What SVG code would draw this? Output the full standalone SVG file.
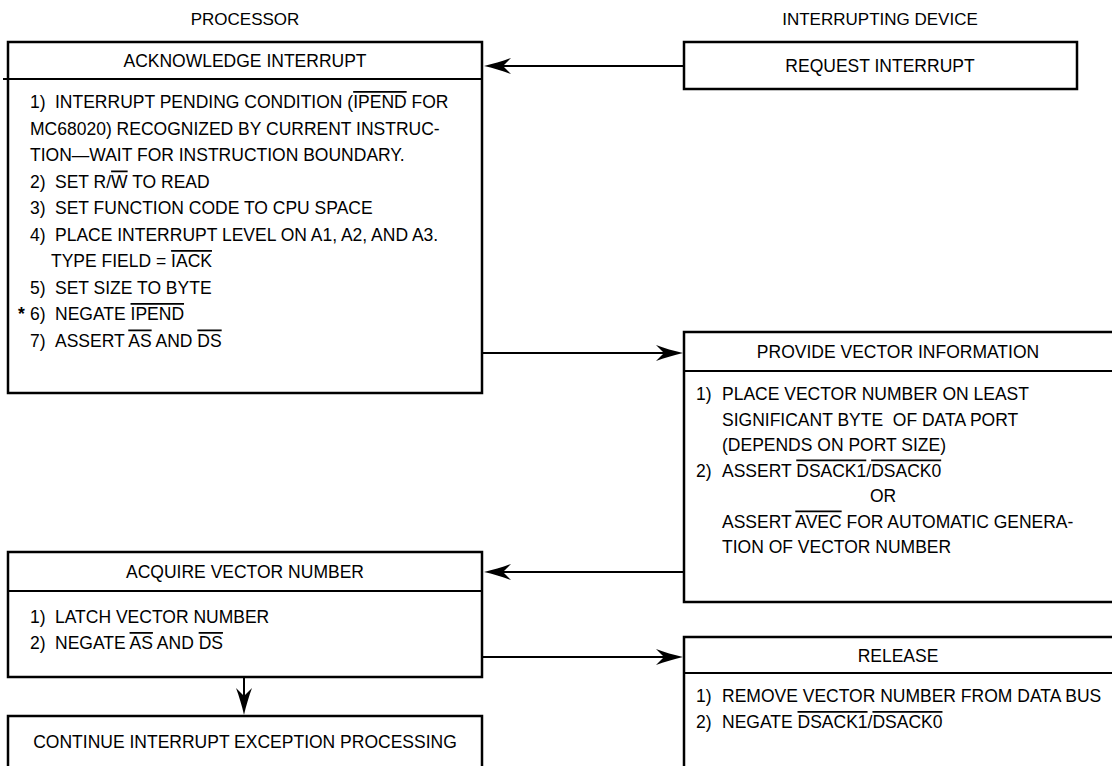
<svg xmlns="http://www.w3.org/2000/svg" width="1112" height="766" viewBox="0 0 1112 766">
<style>
text { font-family: "Liberation Sans", Arial, Helvetica, sans-serif; font-size: 17.5px; fill: #000; white-space: pre; }
.hdr { font-size: 17px; text-anchor: middle; }
.ttl { text-anchor: middle; }
.ol { text-decoration: overline; }
.box { fill: #fff; stroke: #000; stroke-width: 2.5; }
.div { stroke: #000; stroke-width: 2; fill: none; }
.conn line { stroke: #000; stroke-width: 2; fill: none; marker-end: url(#arr); }
</style>
<defs>
<marker id="arr" markerUnits="userSpaceOnUse" viewBox="-30 -10 32 20" markerWidth="32" markerHeight="20" refX="-10" refY="0" orient="auto">
<path d="M0,0 C-9,-2 -19,-5 -27,-8 L-19,0 L-27,8 C-19,5 -9,2 0,0 Z" fill="#000"/>
</marker>
</defs>
<rect width="1112" height="766" fill="#fff"/>

<g id="labels">
<text class="hdr" x="245" y="25">PROCESSOR</text>
<text class="hdr" x="880" y="25">INTERRUPTING DEVICE</text>
</g>

<g id="acknowledge">
<rect class="box" x="8" y="42" width="474" height="351"/>
<line class="div" x1="3" y1="79" x2="482" y2="79"/>
<text class="ttl" x="245" y="67">ACKNOWLEDGE INTERRUPT</text>
<text x="30" y="108">1)</text><text x="55" y="108">INTERRUPT PENDING CONDITION (<tspan class="ol">IPEND</tspan> FOR</text>
<text x="30" y="134.5">MC68020) RECOGNIZED BY CURRENT INSTRUC-</text>
<text x="30" y="161">TION—WAIT FOR INSTRUCTION BOUNDARY.</text>
<text x="30" y="187.5">2)</text><text x="55" y="187.5">SET R/<tspan class="ol">W</tspan> TO READ</text>
<text x="30" y="214">3)</text><text x="55" y="214">SET FUNCTION CODE TO CPU SPACE</text>
<text x="30" y="240.5">4)</text><text x="55" y="240.5">PLACE INTERRUPT LEVEL ON A1, A2, AND A3.</text>
<text x="51" y="267">TYPE FIELD = <tspan class="ol">IACK</tspan></text>
<text x="30" y="293.5">5)</text><text x="55" y="293.5">SET SIZE TO BYTE</text>
<text x="18" y="320" font-weight="bold">*</text><text x="30" y="320">6)</text><text x="55" y="320">NEGATE <tspan class="ol">IPEND</tspan></text>
<text x="30" y="346.5">7)</text><text x="55" y="346.5">ASSERT <tspan class="ol">AS</tspan> AND <tspan class="ol">DS</tspan></text>
</g>

<g id="request">
<rect class="box" x="684" y="42" width="393" height="47"/>
<text class="ttl" x="880" y="72">REQUEST INTERRUPT</text>
</g>

<g id="provide">
<rect class="box" x="684" y="332" width="440" height="270"/>
<line class="div" x1="684" y1="371" x2="1112" y2="371"/>
<text class="ttl" x="898" y="358">PROVIDE VECTOR INFORMATION</text>
<text x="696" y="400">1)</text><text x="722" y="400">PLACE VECTOR NUMBER ON LEAST</text>
<text x="722" y="425.5">SIGNIFICANT BYTE  OF DATA PORT</text>
<text x="722" y="451">(DEPENDS ON PORT SIZE)</text>
<text x="696" y="476.5">2)</text><text x="722" y="476.5">ASSERT <tspan class="ol">DSACK1</tspan>/<tspan class="ol">DSACK0</tspan></text>
<text x="870" y="502">OR</text>
<text x="722" y="527.5">ASSERT <tspan class="ol">AVEC</tspan> FOR AUTOMATIC GENERA-</text>
<text x="722" y="553">TION OF VECTOR NUMBER</text>
</g>

<g id="acquire">
<rect class="box" x="8" y="552" width="474" height="125"/>
<line class="div" x1="8" y1="591" x2="482" y2="591"/>
<text class="ttl" x="245" y="578">ACQUIRE VECTOR NUMBER</text>
<text x="30" y="623">1)</text><text x="55" y="623">LATCH VECTOR NUMBER</text>
<text x="30" y="649">2)</text><text x="55" y="649">NEGATE <tspan class="ol">AS</tspan> AND <tspan class="ol">DS</tspan></text>
</g>

<g id="release">
<rect class="box" x="684" y="637" width="440" height="150"/>
<line class="div" x1="684" y1="673" x2="1112" y2="673"/>
<text class="ttl" x="898" y="661.5">RELEASE</text>
<text x="696" y="702">1)</text><text x="722" y="702">REMOVE VECTOR NUMBER FROM DATA BUS</text>
<text x="696" y="728">2)</text><text x="722" y="728">NEGATE <tspan class="ol">DSACK1</tspan>/<tspan class="ol">DSACK0</tspan></text>
</g>

<g id="continue">
<rect class="box" x="8" y="716" width="474" height="70"/>
<text class="ttl" x="245" y="748">CONTINUE INTERRUPT EXCEPTION PROCESSING</text>
</g>

<g class="conn" id="connectors">
<line x1="684" y1="66" x2="494" y2="66"/>
<line x1="482" y1="353" x2="673" y2="353"/>
<line x1="684" y1="572" x2="494" y2="572"/>
<line x1="482" y1="657" x2="673" y2="657"/>
<line x1="244" y1="677" x2="244" y2="705"/>
</g>
</svg>
